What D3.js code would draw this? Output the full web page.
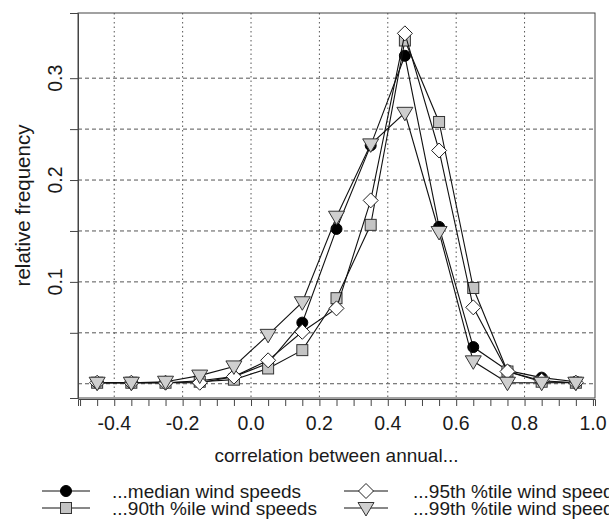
<!DOCTYPE html>
<html>
<head>
<meta charset="utf-8">
<script src="https://cdn.jsdelivr.net/npm/d3@7"></script>
<style>
  body { margin: 0; background: #fff; }
  svg text { font-family: "Liberation Sans", Arial, sans-serif; fill: #1a1a1a; }
</style>
</head>
<body>
<div id="chart"></div>
<script>
// bin centres of the correlation histogram
const bins = [-0.45, -0.35, -0.25, -0.15, -0.05, 0.05, 0.15, 0.25, 0.35, 0.45, 0.55, 0.65, 0.75, 0.85, 0.95];

const medianVals = [0.001, 0.001, 0.001, 0.003, 0.007, 0.020, 0.060, 0.152, 0.234, 0.322, 0.154, 0.036, 0.013, 0.006, 0.002];
const p90Vals    = [0.001, 0.001, 0.001, 0.002, 0.004, 0.015, 0.033, 0.084, 0.156, 0.337, 0.257, 0.094, 0.012, 0.002, 0.001];
const p95Vals    = [0.001, 0.001, 0.001, 0.001, 0.007, 0.023, 0.051, 0.074, 0.180, 0.344, 0.229, 0.075, 0.012, 0.003, 0.001];
const p99Vals    = [0.001, 0.001, 0.002, 0.008, 0.017, 0.048, 0.080, 0.164, 0.235, 0.266, 0.149, 0.022, 0.001, 0.001, 0.001];

const seriesNames = ['...median wind speeds', '...90th %ile wind speeds', '...95th %tile wind speeds', '...99th %tile wind speeds'];

const xTickLabels = ['-0.4', '-0.2', '0.0', '0.2', '0.4', '0.6', '0.8', '1.0'];
const xMinorTicks = d3.range(-10, 21).map(i => i * 0.05);
const yTickMarks = [0.05, 0.1, 0.15, 0.2, 0.25, 0.3];
const yTickLabels = ['0.1', '0.2', '0.3'];
const xGrid = [-0.4, -0.2, 0.0, 0.2, 0.4, 0.6, 0.8];
const yGrid = [0, 0.05, 0.1, 0.15, 0.2, 0.25, 0.3];

const width = 609, height = 522;
const plot = { left: 78, right: 595, top: 13, bottom: 398 };

const x = d3.scaleLinear().domain([-0.506, 1.006]).range([plot.left, plot.right]);
const y = d3.scaleLinear().domain([-0.014, 0.364]).range([plot.bottom, plot.top]);

const svg = d3.select('#chart').append('svg')
    .attr('width', width)
    .attr('height', height);

svg.append('rect').attr('width', width).attr('height', height).attr('fill', '#fff');

// grid
svg.append('g').selectAll('line')
    .data(yGrid).enter().append('line')
    .attr('x1', plot.left).attr('x2', plot.right)
    .attr('y1', d => y(d)).attr('y2', d => y(d))
    .attr('stroke', '#555').attr('stroke-width', 1)
    .attr('stroke-dasharray', '4,3');

svg.append('g').selectAll('line')
    .data(xGrid).enter().append('line')
    .attr('x1', d => x(d)).attr('x2', d => x(d))
    .attr('y1', plot.top).attr('y2', plot.bottom)
    .attr('stroke', '#555').attr('stroke-width', 1)
    .attr('stroke-dasharray', '1.5,3');

// box
svg.append('rect')
    .attr('x', plot.left).attr('y', plot.top)
    .attr('width', plot.right - plot.left).attr('height', plot.bottom - plot.top)
    .attr('fill', 'none').attr('stroke', '#444').attr('stroke-width', 1);

// x axis
const xAxis = d3.axisBottom(x).tickValues(xMinorTicks).tickSize(7).tickFormat('');
const gx = svg.append('g').attr('transform', `translate(0,${plot.bottom + 1})`).call(xAxis);
gx.select('.domain').attr('stroke', '#444');
gx.selectAll('.tick line').attr('stroke', '#444');

svg.append('g').selectAll('text')
    .data(xTickLabels).enter().append('text')
    .attr('x', d => x(+d)).attr('y', 430)
    .attr('text-anchor', 'middle')
    .style('font-size', '19.5px')
    .text(d => d);

// y axis
const yAxis = d3.axisLeft(y).tickValues(yTickMarks).tickSize(8).tickFormat('');
const gy = svg.append('g').attr('transform', `translate(${plot.left},0)`).call(yAxis);
gy.select('.domain').attr('stroke', '#444');
gy.selectAll('.tick line').attr('stroke', '#444');

svg.append('g').selectAll('text')
    .data(yTickLabels).enter().append('text')
    .attr('transform', d => `translate(62,${y(+d)}) rotate(-90)`)
    .attr('text-anchor', 'middle')
    .style('font-size', '19.5px')
    .text(d => d);

// axis titles
svg.append('text')
    .attr('x', (plot.left + plot.right) / 2).attr('y', 462)
    .attr('text-anchor', 'middle')
    .style('font-size', '19px')
    .text('correlation between annual...');

svg.append('text')
    .attr('transform', `translate(30,${(plot.top + plot.bottom) / 2}) rotate(-90)`)
    .attr('text-anchor', 'middle')
    .style('font-size', '20.5px')
    .text('relative frequency');

// marker shapes
function drawMarker(g, shape, cx, cy) {
    if (shape === 'circle') {
        g.append('circle').attr('cx', cx).attr('cy', cy).attr('r', 5.5)
            .attr('fill', '#000').attr('stroke', '#000');
    } else if (shape === 'square') {
        g.append('rect').attr('x', cx - 5.5).attr('y', cy - 5.5)
            .attr('width', 11).attr('height', 11)
            .attr('fill', '#c4c4c4').attr('stroke', '#333');
    } else if (shape === 'diamond') {
        g.append('path')
            .attr('d', `M${cx},${cy - 7.5}L${cx + 7.5},${cy}L${cx},${cy + 7.5}L${cx - 7.5},${cy}Z`)
            .attr('fill', '#fff').attr('stroke', '#222');
    } else {
        g.append('path')
            .attr('d', `M${cx - 8},${cy - 5.5}L${cx + 8},${cy - 5.5}L${cx},${cy + 8}Z`)
            .attr('fill', '#cfcfcf').attr('stroke', '#333');
    }
}

const series = [
    { name: seriesNames[0], values: medianVals, shape: 'circle' },
    { name: seriesNames[1], values: p90Vals, shape: 'square' },
    { name: seriesNames[2], values: p95Vals, shape: 'diamond' },
    { name: seriesNames[3], values: p99Vals, shape: 'triangle' }
];

const line = d3.line()
    .x(d => x(d[0]))
    .y(d => y(d[1]));

series.forEach(s => {
    const pts = bins.map((b, i) => [b, s.values[i]]);
    const g = svg.append('g');
    g.append('path')
        .attr('d', line(pts))
        .attr('fill', 'none')
        .attr('stroke', '#111')
        .attr('stroke-width', 1.1);
    pts.forEach(p => drawMarker(g, s.shape, x(p[0]), y(p[1])));
});

// legend (2 columns, filled column-wise)
const legendCols = [
    { x1: 42, x2: 90, tx: 112 },
    { x1: 344, x2: 388, tx: 413 }
];
const legendRows = [491, 508];

series.forEach((s, i) => {
    const col = legendCols[Math.floor(i / 2)];
    const ry = legendRows[i % 2];
    const g = svg.append('g');
    g.append('line')
        .attr('x1', col.x1).attr('x2', col.x2)
        .attr('y1', ry).attr('y2', ry)
        .attr('stroke', '#111');
    drawMarker(g, s.shape, (col.x1 + col.x2) / 2, ry);
    g.append('text')
        .attr('x', col.tx).attr('y', ry + 6.5)
        .style('font-size', '19px')
        .text(s.name);
});
</script>
</body>
</html>
